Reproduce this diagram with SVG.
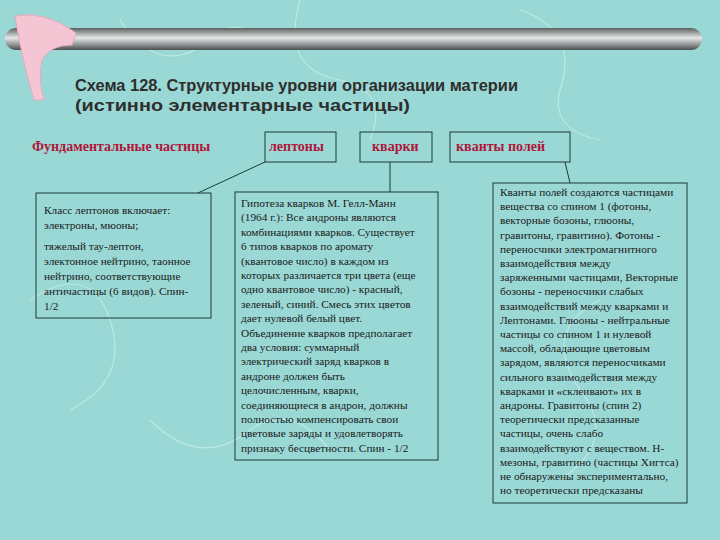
<svg xmlns="http://www.w3.org/2000/svg" width="720" height="540" viewBox="0 0 720 540">
<defs>
<linearGradient id="bar" x1="0" y1="0" x2="0" y2="1">
<stop offset="0" stop-color="#5a5f60"/><stop offset="0.45" stop-color="#e6e8e8"/><stop offset="1" stop-color="#4a4f50"/>
</linearGradient>
<style>
.box{fill:none;stroke:#1b3a36;stroke-width:1}
.hd{font-family:"Liberation Serif",serif;font-weight:bold;font-size:14px;fill:#b0163a}
.tx{font-family:"Liberation Serif",serif;font-size:11.3px;fill:#1a1a1a}
.ti{font-family:"Liberation Sans",sans-serif;font-weight:bold;font-size:17px;fill:#2e2e2e}
.ln{stroke:#1b3a36;stroke-width:1;fill:none}
</style>
</defs>
<rect width="720" height="540" fill="#9ad8d5"/>
<g fill="none" stroke="#c7eceb" stroke-width="1.2" opacity="0.8">
<path d="M120 20 q40 60 90 20 q30 -30 60 10"/><path d="M300 0 q-20 70 40 80 q50 10 30 60"/>
<path d="M520 10 q60 20 40 80 q-10 40 40 50"/><path d="M30 300 q60 -40 80 20 q20 60 -40 90"/>
<path d="M600 300 q-60 30 -20 90 q40 50 -20 90"/><path d="M150 420 q50 50 100 10 q40 -30 80 20"/>
</g>
<rect x="5" y="28" width="697" height="22" rx="11" fill="url(#bar)"/>
<path d="M15 16 Q45 10 76 33 L72 45 Q50 45 42 60 Q38 80 44 100 L34 100 Q22 60 15 16 Z" fill="#f4c6d3" stroke="#e9a9bb"/>
<g id="title">
<text class="ti" x="75" y="91" textLength="443" lengthAdjust="spacingAndGlyphs">Схема 128. Структурные уровни организации материи</text>
<text class="ti" x="75" y="111" textLength="335" lengthAdjust="spacingAndGlyphs">(истинно элементарные частицы)</text>
</g>
<g id="fund"><text class="hd" x="32" y="151">Фундаментальные частицы</text></g>
<g id="leptons"><rect class="box" x="265" y="132" width="71" height="30"/><text class="hd" x="269" y="151">лептоны</text></g>
<g id="quarks"><rect class="box" x="360" y="132" width="72" height="30"/><text class="hd" x="372" y="151">кварки</text></g>
<g id="quanta"><rect class="box" x="450" y="132" width="120" height="30"/><text class="hd" x="456" y="151">кванты  полей</text></g>
<g id="connectors">
<line class="ln" x1="265" y1="162" x2="198" y2="193"/>
<line class="ln" x1="390" y1="162" x2="390" y2="192"/>
<line class="ln" x1="565" y1="162" x2="570" y2="183"/>
</g>
<g id="lepton-box"><rect class="box" x="36" y="193" width="175" height="125"/>
<text class="tx" x="44" y="214">Класс лептонов включает:</text>
<text class="tx" x="44" y="229">электроны, мюоны;</text>
<text class="tx" x="44" y="250">тяжелый тау-лептон,</text>
<text class="tx" x="44" y="265">электонное нейтрино, таонное</text>
<text class="tx" x="44" y="280">нейтрино, соответствующие</text>
<text class="tx" x="44" y="295">античастицы (6 видов). Спин-</text>
<text class="tx" x="44" y="310">1/2</text>
</g>
<g id="quark-box"><rect class="box" x="235" y="192" width="203" height="268"/>
<g class="tx">
<text x="241" y="207">Гипотеза кварков М. Гелл-Манн</text>
<text x="241" y="221.4">(1964 г.): Все андроны являются</text>
<text x="241" y="235.8">комбинациями кварков. Существует</text>
<text x="241" y="250.2">6 типов кварков по аромату</text>
<text x="241" y="264.6">(квантовое число) в каждом из</text>
<text x="241" y="279">которых различается три цвета (еще</text>
<text x="241" y="293.4">одно квантовое число) - красный,</text>
<text x="241" y="307.8">зеленый, синий. Смесь этих цветов</text>
<text x="241" y="322.2">дает нулевой белый цвет.</text>
<text x="241" y="336.6">Объединение кварков предполагает</text>
<text x="241" y="351">два условия: суммарный</text>
<text x="241" y="365.4">электрический заряд кварков в</text>
<text x="241" y="379.8">андроне должен быть</text>
<text x="241" y="394.2">целочисленным, кварки,</text>
<text x="241" y="408.6">соединяющиеся в андрон, должны</text>
<text x="241" y="423">полностью компенсировать свои</text>
<text x="241" y="437.4">цветовые заряды и удовлетворять</text>
<text x="241" y="451.8">признаку бесцветности. Спин - 1/2</text>
</g></g>
<g id="quanta-box"><rect class="box" x="493" y="183" width="194" height="320"/>
<g class="tx">
<text x="500" y="196">Кванты полей создаются частицами</text>
<text x="500" y="210.2">вещества со спином 1 (фотоны,</text>
<text x="500" y="224.4">векторные бозоны, глюоны,</text>
<text x="500" y="238.6">гравитоны, гравитино). Фотоны -</text>
<text x="500" y="252.8">переносчики электромагнитного</text>
<text x="500" y="267">взаимодействия между</text>
<text x="500" y="281.2">заряженными частицами, Векторные</text>
<text x="500" y="295.4">бозоны - переносчики слабых</text>
<text x="500" y="309.6">взаимодействий между кварками и</text>
<text x="500" y="323.8">Лептонами. Глюоны - нейтральные</text>
<text x="500" y="338">частицы со спином 1 и нулевой</text>
<text x="500" y="352.2">массой, обладающие цветовым</text>
<text x="500" y="366.4">зарядом, являются переносчиками</text>
<text x="500" y="380.6">сильного взаимодействия между</text>
<text x="500" y="394.8">кварками и «склеивают» их в</text>
<text x="500" y="409">андроны. Гравитоны (спин 2)</text>
<text x="500" y="423.2">теоретически предсказанные</text>
<text x="500" y="437.4">частицы, очень слабо</text>
<text x="500" y="451.6">взаимодействуют с веществом. Н-</text>
<text x="500" y="465.8">мезоны, гравитино (частицы Хигтса)</text>
<text x="500" y="480">не обнаружены экспериментально,</text>
<text x="500" y="494.2">но теоретически предсказаны</text>
</g></g>
</svg>
